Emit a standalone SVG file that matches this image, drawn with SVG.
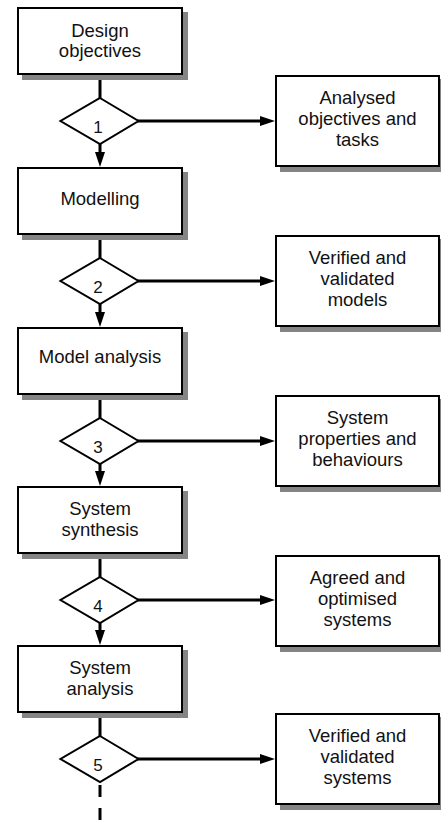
<svg xmlns="http://www.w3.org/2000/svg" width="441" height="825" viewBox="0 0 441 825">
<style>
.box{fill:#fff;stroke:#000;stroke-width:2}
.sh{fill:#858585}
.dia{fill:#fff;stroke:#000;stroke-width:2;stroke-linejoin:miter}
.t{font-family:"Liberation Sans",Arial,sans-serif;font-size:18.5px;fill:#111;text-anchor:middle}
.n{font-family:"Liberation Sans",Arial,sans-serif;font-size:17px;fill:#111;text-anchor:middle}
.c{stroke:#000;stroke-width:3;fill:none}
</style>
<defs>
<marker id="ah" markerUnits="userSpaceOnUse" markerWidth="15" markerHeight="10" refX="5" refY="5" orient="auto">
<path d="M0,0 L15,5 L0,10 z" fill="#000"/>
</marker>
</defs>
<g id="connectors">
<line class="c" x1="100" y1="75" x2="100" y2="98"/>
<line class="c" x1="100" y1="144" x2="100" y2="157" marker-end="url(#ah)"/>
<line class="c" x1="136" y1="121" x2="265" y2="121" marker-end="url(#ah)"/>
<line class="c" x1="100" y1="235" x2="100" y2="258"/>
<line class="c" x1="100" y1="304" x2="100" y2="317" marker-end="url(#ah)"/>
<line class="c" x1="136" y1="281" x2="265" y2="281" marker-end="url(#ah)"/>
<line class="c" x1="100" y1="395" x2="100" y2="418"/>
<line class="c" x1="100" y1="464" x2="100" y2="476" marker-end="url(#ah)"/>
<line class="c" x1="136" y1="441" x2="265" y2="441" marker-end="url(#ah)"/>
<line class="c" x1="100" y1="554" x2="100" y2="577"/>
<line class="c" x1="100" y1="623" x2="100" y2="635" marker-end="url(#ah)"/>
<line class="c" x1="136" y1="600" x2="265" y2="600" marker-end="url(#ah)"/>
<line class="c" x1="100" y1="713" x2="100" y2="736"/>
<line class="c" x1="100" y1="785" x2="100" y2="825" stroke-dasharray="12 11"/>
<line class="c" x1="136" y1="759" x2="265" y2="759" marker-end="url(#ah)"/>
</g>
<g id="n-design">
<rect class="sh" x="22" y="12" width="166" height="68"/>
<rect class="box" x="18" y="8" width="164" height="66"/>
<text class="t" x="100" y="36.5">Design</text>
<text class="t" x="100" y="57">objectives</text>
</g>
<g id="d1">
<path class="dia" d="M100,98 L138.5,121 L100,144 L60.5,121 Z"/>
<text class="n" x="98" y="133">1</text>
</g>
<g id="r1">
<rect class="sh" x="280" y="79" width="165" height="93"/>
<rect class="box" x="276" y="76" width="163" height="90"/>
<text class="t" x="357.5" y="103.5">Analysed</text>
<text class="t" x="357.5" y="125">objectives and</text>
<text class="t" x="357.5" y="146">tasks</text>
</g>
<g id="n-modelling">
<rect class="sh" x="22" y="172" width="166" height="68"/>
<rect class="box" x="18" y="168" width="164" height="66"/>
<text class="t" x="100" y="204.5">Modelling</text>
</g>
<g id="d2">
<path class="dia" d="M100,258 L138.5,281 L100,304 L60.5,281 Z"/>
<text class="n" x="98" y="293">2</text>
</g>
<g id="r2">
<rect class="sh" x="280" y="239" width="165" height="93"/>
<rect class="box" x="276" y="236" width="163" height="90"/>
<text class="t" x="357.5" y="263.5">Verified and</text>
<text class="t" x="357.5" y="285">validated</text>
<text class="t" x="357.5" y="306">models</text>
</g>
<g id="n-model-analysis">
<rect class="sh" x="22" y="332" width="166" height="68"/>
<rect class="box" x="18" y="328" width="164" height="66"/>
<text class="t" x="100" y="363">Model analysis</text>
</g>
<g id="d3">
<path class="dia" d="M100,418 L138.5,441 L100,464 L60.5,441 Z"/>
<text class="n" x="98" y="453">3</text>
</g>
<g id="r3">
<rect class="sh" x="280" y="399" width="165" height="93"/>
<rect class="box" x="276" y="396" width="163" height="90"/>
<text class="t" x="357.5" y="423.5">System</text>
<text class="t" x="357.5" y="445">properties and</text>
<text class="t" x="357.5" y="466">behaviours</text>
</g>
<g id="n-system-synthesis">
<rect class="sh" x="22" y="491" width="166" height="68"/>
<rect class="box" x="18" y="487" width="164" height="66"/>
<text class="t" x="100" y="514.5">System</text>
<text class="t" x="100" y="535.5">synthesis</text>
</g>
<g id="d4">
<path class="dia" d="M100,577 L138.5,600 L100,623 L60.5,600 Z"/>
<text class="n" x="98" y="612">4</text>
</g>
<g id="r4">
<rect class="sh" x="280" y="559" width="165" height="93"/>
<rect class="box" x="276" y="556" width="163" height="90"/>
<text class="t" x="357.5" y="583.5">Agreed and</text>
<text class="t" x="357.5" y="605">optimised</text>
<text class="t" x="357.5" y="626">systems</text>
</g>
<g id="n-system-analysis">
<rect class="sh" x="22" y="650" width="166" height="68"/>
<rect class="box" x="18" y="646" width="164" height="66"/>
<text class="t" x="100" y="673.5">System</text>
<text class="t" x="100" y="694.5">analysis</text>
</g>
<g id="d5">
<path class="dia" d="M100,736 L138.5,759 L100,782 L60.5,759 Z"/>
<text class="n" x="98" y="771">5</text>
</g>
<g id="r5">
<rect class="sh" x="280" y="717" width="165" height="93"/>
<rect class="box" x="276" y="714" width="163" height="90"/>
<text class="t" x="357.5" y="741.5">Verified and</text>
<text class="t" x="357.5" y="763">validated</text>
<text class="t" x="357.5" y="784">systems</text>
</g>
</svg>
